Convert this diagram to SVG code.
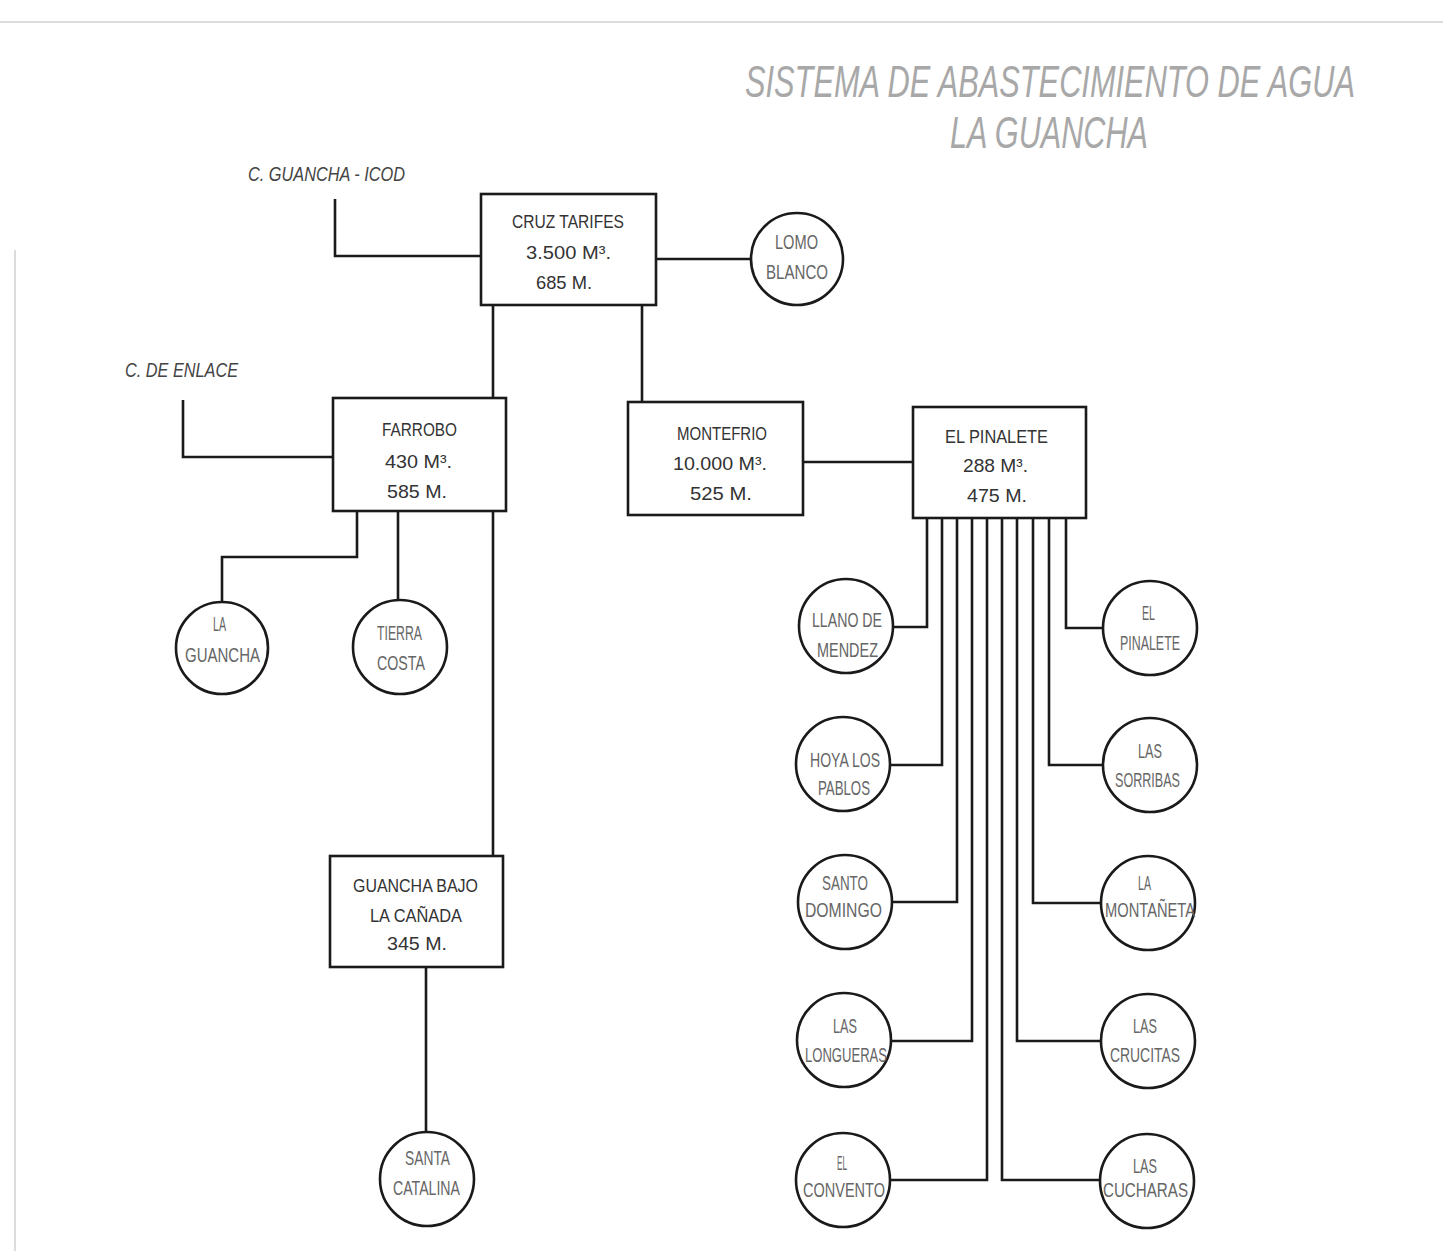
<svg xmlns="http://www.w3.org/2000/svg" width="1443" height="1251" viewBox="0 0 1443 1251">
<style>
.bg{fill:#fff}
.frame{stroke:#dcdcdc;stroke-width:2;fill:none}
.box{fill:#fff;stroke:#1a1a1a;stroke-width:2.6}
.circ{fill:#fff;stroke:#1a1a1a;stroke-width:2.6}
.ln{fill:none;stroke:#1a1a1a;stroke-width:2.6;stroke-linejoin:miter}
.bt{font-family:"Liberation Sans",Arial,sans-serif;font-size:19px;fill:#333}
.ct{font-family:"Liberation Sans",Arial,sans-serif;font-size:21px;fill:#666}
.lab{font-family:"Liberation Sans",Arial,sans-serif;font-size:20px;font-style:italic;fill:#444}
.title{font-family:"Liberation Sans",Arial,sans-serif;font-size:30px;font-style:italic;fill:#a8a8a8}
</style>
<rect class="bg" x="0" y="0" width="1443" height="1251"/>
<path class="frame" d="M0 22 H1443 M15 250 V1251"/>
<g id="title">
<text class="title" transform="translate(745,97) scale(1,1.5)" x="0" y="0" textLength="610" lengthAdjust="spacingAndGlyphs">SISTEMA DE ABASTECIMIENTO DE AGUA</text>
<text class="title" transform="translate(950,148) scale(1,1.5)" x="0" y="0" textLength="198" lengthAdjust="spacingAndGlyphs">LA GUANCHA</text>
</g>
<g id="connectors">
<path class="ln" d="M335 199 V256 H481"/>
<path class="ln" d="M656 259 H751"/>
<path class="ln" d="M493 305 V398"/>
<path class="ln" d="M642 305 V402"/>
<path class="ln" d="M183 400 V457 H333"/>
<path class="ln" d="M803 462 H913"/>
<path class="ln" d="M357 512 V557 H222 V602"/>
<path class="ln" d="M398 512 V600"/>
<path class="ln" d="M493 512 V855"/>
<path class="ln" d="M426 967 V1132"/>
<path class="ln" d="M927 518 V627 H893"/>
<path class="ln" d="M942 518 V765 H890"/>
<path class="ln" d="M957 518 V902 H892"/>
<path class="ln" d="M972 518 V1041 H891"/>
<path class="ln" d="M987 518 V1180 H890"/>
<path class="ln" d="M1002 518 V1180 H1100"/>
<path class="ln" d="M1017 518 V1041 H1101"/>
<path class="ln" d="M1033 518 V903 H1101"/>
<path class="ln" d="M1049 518 V765 H1103"/>
<path class="ln" d="M1066 518 V628 H1104"/>
</g>
<g id="label-guancha-icod">
<text class="lab" x="248" y="181" textLength="157" lengthAdjust="spacingAndGlyphs">C. GUANCHA - ICOD</text>
</g>
<g id="label-enlace">
<text class="lab" x="125" y="377" textLength="113" lengthAdjust="spacingAndGlyphs">C. DE ENLACE</text>
</g>
<g id="cruz-tarifes">
<rect class="box" x="481" y="194" width="175" height="111"/>
<text class="bt" x="512" y="228" textLength="112" lengthAdjust="spacingAndGlyphs">CRUZ TARIFES</text>
<text class="bt" x="526" y="259" textLength="85" lengthAdjust="spacingAndGlyphs">3.500 M³.</text>
<text class="bt" x="536" y="289" textLength="56" lengthAdjust="spacingAndGlyphs">685 M.</text>
</g>
<g id="lomo-blanco">
<circle class="circ" cx="797" cy="259" r="46"/>
<text class="ct" x="775" y="249" textLength="43" lengthAdjust="spacingAndGlyphs">LOMO</text>
<text class="ct" x="766" y="279" textLength="62" lengthAdjust="spacingAndGlyphs">BLANCO</text>
</g>
<g id="farrobo">
<rect class="box" x="333" y="398" width="173" height="113"/>
<text class="bt" x="382" y="436" textLength="75" lengthAdjust="spacingAndGlyphs">FARROBO</text>
<text class="bt" x="385" y="468" textLength="67" lengthAdjust="spacingAndGlyphs">430 M³.</text>
<text class="bt" x="387" y="498" textLength="60" lengthAdjust="spacingAndGlyphs">585 M.</text>
</g>
<g id="montefrio">
<rect class="box" x="628" y="402" width="175" height="113"/>
<text class="bt" x="677" y="440" textLength="90" lengthAdjust="spacingAndGlyphs">MONTEFRIO</text>
<text class="bt" x="673" y="470" textLength="94" lengthAdjust="spacingAndGlyphs">10.000 M³.</text>
<text class="bt" x="690" y="500" textLength="62" lengthAdjust="spacingAndGlyphs">525 M.</text>
</g>
<g id="el-pinalete-box">
<rect class="box" x="913" y="407" width="173" height="111"/>
<text class="bt" x="945" y="443" textLength="103" lengthAdjust="spacingAndGlyphs">EL PINALETE</text>
<text class="bt" x="963" y="472" textLength="65" lengthAdjust="spacingAndGlyphs">288 M³.</text>
<text class="bt" x="967" y="502" textLength="60" lengthAdjust="spacingAndGlyphs">475 M.</text>
</g>
<g id="guancha-bajo">
<rect class="box" x="330" y="856" width="173" height="111"/>
<text class="bt" x="353" y="892" textLength="125" lengthAdjust="spacingAndGlyphs">GUANCHA BAJO</text>
<text class="bt" x="370" y="922" textLength="92" lengthAdjust="spacingAndGlyphs">LA CAÑADA</text>
<text class="bt" x="387" y="950" textLength="60" lengthAdjust="spacingAndGlyphs">345 M.</text>
</g>
<g id="la-guancha">
<circle class="circ" cx="222" cy="648" r="46"/>
<text class="ct" x="213" y="631" textLength="13" lengthAdjust="spacingAndGlyphs">LA</text>
<text class="ct" x="185" y="662" textLength="75" lengthAdjust="spacingAndGlyphs">GUANCHA</text>
</g>
<g id="tierra-costa">
<circle class="circ" cx="400" cy="647" r="47"/>
<text class="ct" x="377" y="640" textLength="45" lengthAdjust="spacingAndGlyphs">TIERRA</text>
<text class="ct" x="377" y="670" textLength="48" lengthAdjust="spacingAndGlyphs">COSTA</text>
</g>
<g id="santa-catalina">
<circle class="circ" cx="427" cy="1179" r="47"/>
<text class="ct" x="405" y="1165" textLength="45" lengthAdjust="spacingAndGlyphs">SANTA</text>
<text class="ct" x="393" y="1195" textLength="67" lengthAdjust="spacingAndGlyphs">CATALINA</text>
</g>
<g id="llano-de-mendez">
<circle class="circ" cx="846" cy="626" r="47"/>
<text class="ct" x="812" y="627" textLength="70" lengthAdjust="spacingAndGlyphs">LLANO DE</text>
<text class="ct" x="817" y="657" textLength="61" lengthAdjust="spacingAndGlyphs">MENDEZ</text>
</g>
<g id="hoya-los-pablos">
<circle class="circ" cx="843" cy="764" r="47"/>
<text class="ct" x="810" y="767" textLength="70" lengthAdjust="spacingAndGlyphs">HOYA LOS</text>
<text class="ct" x="818" y="795" textLength="52" lengthAdjust="spacingAndGlyphs">PABLOS</text>
</g>
<g id="santo-domingo">
<circle class="circ" cx="845" cy="902" r="47"/>
<text class="ct" x="822" y="890" textLength="46" lengthAdjust="spacingAndGlyphs">SANTO</text>
<text class="ct" x="805" y="917" textLength="77" lengthAdjust="spacingAndGlyphs">DOMINGO</text>
</g>
<g id="las-longueras">
<circle class="circ" cx="844" cy="1040" r="47"/>
<text class="ct" x="833" y="1033" textLength="24" lengthAdjust="spacingAndGlyphs">LAS</text>
<text class="ct" x="805" y="1062" textLength="82" lengthAdjust="spacingAndGlyphs">LONGUERAS</text>
</g>
<g id="el-convento">
<circle class="circ" cx="843" cy="1180" r="47"/>
<text class="ct" x="837" y="1170" textLength="10" lengthAdjust="spacingAndGlyphs">EL</text>
<text class="ct" x="803" y="1197" textLength="82" lengthAdjust="spacingAndGlyphs">CONVENTO</text>
</g>
<g id="el-pinalete">
<circle class="circ" cx="1150" cy="628" r="47"/>
<text class="ct" x="1142" y="620" textLength="13" lengthAdjust="spacingAndGlyphs">EL</text>
<text class="ct" x="1120" y="650" textLength="60" lengthAdjust="spacingAndGlyphs">PINALETE</text>
</g>
<g id="las-sorribas">
<circle class="circ" cx="1150" cy="765" r="47"/>
<text class="ct" x="1138" y="758" textLength="24" lengthAdjust="spacingAndGlyphs">LAS</text>
<text class="ct" x="1115" y="787" textLength="65" lengthAdjust="spacingAndGlyphs">SORRIBAS</text>
</g>
<g id="la-montaneta">
<circle class="circ" cx="1148" cy="903" r="47"/>
<text class="ct" x="1138" y="890" textLength="13" lengthAdjust="spacingAndGlyphs">LA</text>
<text class="ct" x="1105" y="917" textLength="90" lengthAdjust="spacingAndGlyphs">MONTAÑETA</text>
</g>
<g id="las-crucitas">
<circle class="circ" cx="1148" cy="1041" r="47"/>
<text class="ct" x="1133" y="1033" textLength="24" lengthAdjust="spacingAndGlyphs">LAS</text>
<text class="ct" x="1110" y="1062" textLength="70" lengthAdjust="spacingAndGlyphs">CRUCITAS</text>
</g>
<g id="las-cucharas">
<circle class="circ" cx="1147" cy="1181" r="47"/>
<text class="ct" x="1133" y="1173" textLength="24" lengthAdjust="spacingAndGlyphs">LAS</text>
<text class="ct" x="1103" y="1197" textLength="85" lengthAdjust="spacingAndGlyphs">CUCHARAS</text>
</g>
</svg>
